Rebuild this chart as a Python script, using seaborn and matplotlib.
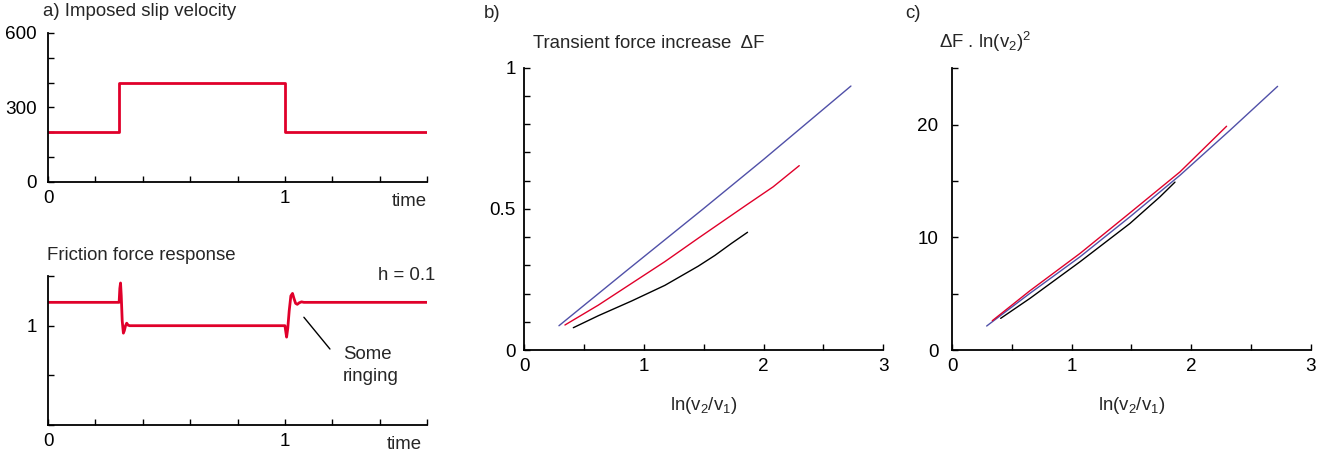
import matplotlib
matplotlib.use("Agg")
import matplotlib.pyplot as plt
import seaborn as sns
import numpy as np

sns.set_style("white")
plt.rcParams['font.family'] = ['Liberation Sans', 'DejaVu Sans']
plt.rcParams['mathtext.fontset'] = 'custom'
plt.rcParams['mathtext.rm'] = 'Liberation Sans'
plt.rcParams['mathtext.it'] = 'Liberation Sans'

# ---- data ----
vel_time = [0.0, 0.3, 1.0, 1.6]
vel_value = [200, 400, 200, 200]

force_time = [0.0, 0.300, 0.303, 0.306, 0.309, 0.313, 0.318, 0.322, 0.327, 0.332,
              0.338, 0.345, 1.000, 1.003, 1.007, 1.012, 1.018, 1.025, 1.032, 1.038,
              1.045, 1.052, 1.060, 1.070, 1.080, 1.6]
force_value = [1.047, 1.047, 1.075, 1.086, 1.06, 1.01, 0.985, 0.99, 1.0, 1.005,
               1.001, 1.0, 1.0, 0.99, 0.977, 0.995, 1.03, 1.06, 1.065, 1.055,
               1.045, 1.043, 1.046, 1.048, 1.047, 1.047]

# panel b: transient force increase
b_blue_x = [0.29, 0.855, 1.49, 2.0, 2.73]
b_blue_y = [0.086, 0.281, 0.498, 0.675, 0.935]
b_red_x = [0.34, 0.619, 0.897, 1.175, 1.454, 1.858, 2.08, 2.298]
b_red_y = [0.0886, 0.159, 0.236, 0.313, 0.396, 0.514, 0.578, 0.653]
b_black_x = [0.41, 0.619, 0.897, 1.175, 1.454, 1.593, 1.733, 1.866]
b_black_y = [0.079, 0.1215, 0.1736, 0.229, 0.297, 0.335, 0.378, 0.417]

# panel c: dF . ln(v2)^2
c_blue_x = [0.288, 0.650, 1.069, 1.487, 1.905, 2.324, 2.723]
c_blue_y = [2.13, 5.03, 8.27, 11.82, 15.5, 19.5, 23.4]
c_red_x = [0.335, 0.650, 1.069, 1.487, 1.905, 2.296]
c_red_y = [2.6, 5.26, 8.57, 12.17, 15.8, 19.86]
c_black_x = [0.405, 0.650, 1.069, 1.487, 1.738, 1.864]
c_black_y = [2.81, 4.58, 7.83, 11.23, 13.59, 14.9]

RED = "#E0002A"
BLUE = "#5050A8"
BLACK = "#000000"
FS = 13.4
TFS = 13.6

fig = plt.figure(figsize=(13.35, 4.57), dpi=100)

def style(ax):
    for s in ['top', 'right']:
        ax.spines[s].set_visible(False)
    for s in ['left', 'bottom']:
        ax.spines[s].set_color('black')
        ax.spines[s].set_linewidth(1.3)
    ax.tick_params(direction='in', length=4, width=1.0, colors='black',
                   labelsize=TFS, pad=6, bottom=True, left=True)
    ax.grid(False)

# ---- panel a top ----
ax1 = fig.add_axes([0.036, 0.6018, 0.2839, 0.326])
sns.lineplot(x=vel_time, y=vel_value, ax=ax1, color=RED, lw=2.0,
             drawstyle='steps-post', estimator=None, sort=False)
ax1.set_xlim(0, 1.6)
ax1.set_ylim(0, 600)
ax1.set_xticks(np.arange(0, 1.61, 0.2))
ax1.set_xticklabels(['0', '', '', '', '', '1', '', '', ''])
ax1.set_yticks(np.arange(0, 601, 100))
ax1.set_yticklabels(['0', '', '', '300', '', '', '600'])
style(ax1)
ax1.tick_params(axis='y', pad=8)
ax1.text(1.6, -0.13, 'time', transform=ax1.get_xaxis_transform(),
         ha='right', va='center', fontsize=FS)
fig.text(43/1335, 1-12/457, 'a) Imposed slip velocity', ha='left', va='center',
         fontsize=FS)

# ---- panel a bottom ----
ax2 = fig.add_axes([0.036, 0.070, 0.2839, 0.326])
sns.lineplot(x=force_time, y=force_value, ax=ax2, color=RED, lw=2.0,
             estimator=None, sort=False)
ax2.set_xlim(0, 1.6)
ax2.set_ylim(0.8, 1.1)
ax2.set_xticks(np.arange(0, 1.61, 0.2))
ax2.set_xticklabels(['0', '', '', '', '', '1', '', '', ''])
ax2.set_yticks([0.8, 0.9, 1.0, 1.1])
ax2.set_yticklabels(['', '', '1', ''])
style(ax2)
ax2.tick_params(axis='y', pad=8)
ax2.text(1.58, -0.13, 'time', transform=ax2.get_xaxis_transform(),
         ha='right', va='center', fontsize=FS)
ax2.text(1.633, 1.101, 'h = 0.1', ha='right', va='center', fontsize=FS, clip_on=False)
ax2.plot([1.08, 1.19], [1.017, 0.953], color='black', lw=1.0)
ax2.text(1.245, 0.941, 'Some', ha='left', va='center', fontsize=FS)
ax2.text(1.245, 0.897, 'ringing', ha='left', va='center', fontsize=FS)
fig.text(47/1335, 1-255/457, 'Friction force response', ha='left', va='center',
         fontsize=FS)

# ---- panel b ----
ax3 = fig.add_axes([0.3927, 0.2341, 0.2689, 0.6178])
sns.lineplot(x=b_blue_x, y=b_blue_y, ax=ax3, color=BLUE, lw=1.0, estimator=None, sort=False)
sns.lineplot(x=b_red_x, y=b_red_y, ax=ax3, color=RED, lw=1.0, estimator=None, sort=False)
sns.lineplot(x=b_black_x, y=b_black_y, ax=ax3, color=BLACK, lw=1.0, estimator=None, sort=False)
ax3.set_xlim(0, 3)
ax3.set_ylim(0, 1)
ax3.set_xticks(np.arange(0, 3.01, 0.5))
ax3.set_xticklabels(['0', '', '1', '', '2', '', '3'])
ax3.set_yticks(np.arange(0, 1.001, 0.1))
ax3.set_yticklabels(['0', '', '', '', '', '0.5', '', '', '', '', '1'])
style(ax3)
ax3.set_xlabel(r'ln(v$_2$/v$_1$)', fontsize=FS, labelpad=14)
ax3.set_ylabel('')
fig.text(533/1335, 1-44/457, 'Transient force increase  ΔF', ha='left', va='center',
         fontsize=FS)
fig.text(484/1335, 1-14/457, 'b)', ha='left', va='center', fontsize=FS)

# ---- panel c ----
ax4 = fig.add_axes([0.7133, 0.2341, 0.2685, 0.6164])
sns.lineplot(x=c_blue_x, y=c_blue_y, ax=ax4, color=BLUE, lw=1.0, estimator=None, sort=False)
sns.lineplot(x=c_red_x, y=c_red_y, ax=ax4, color=RED, lw=1.0, estimator=None, sort=False)
sns.lineplot(x=c_black_x, y=c_black_y, ax=ax4, color=BLACK, lw=1.0, estimator=None, sort=False)
ax4.set_xlim(0, 3)
ax4.set_ylim(0, 25)
ax4.set_xticks(np.arange(0, 3.01, 0.5))
ax4.set_xticklabels(['0', '', '1', '', '2', '', '3'])
ax4.set_yticks(np.arange(0, 25.1, 5))
ax4.set_yticklabels(['0', '', '10', '', '20', ''])
style(ax4)
ax4.tick_params(axis='y', pad=10)
ax4.set_xlabel(r'ln(v$_2$/v$_1$)', fontsize=FS, labelpad=14)
ax4.set_ylabel('')
fig.text(939/1335, 1-42/457, r'ΔF . ln(v$_2$)$^2$', ha='left', va='center',
         fontsize=FS)
fig.text(905/1335, 1-14/457, 'c)', ha='left', va='center', fontsize=FS)

fig.savefig('out.png', dpi=100)
